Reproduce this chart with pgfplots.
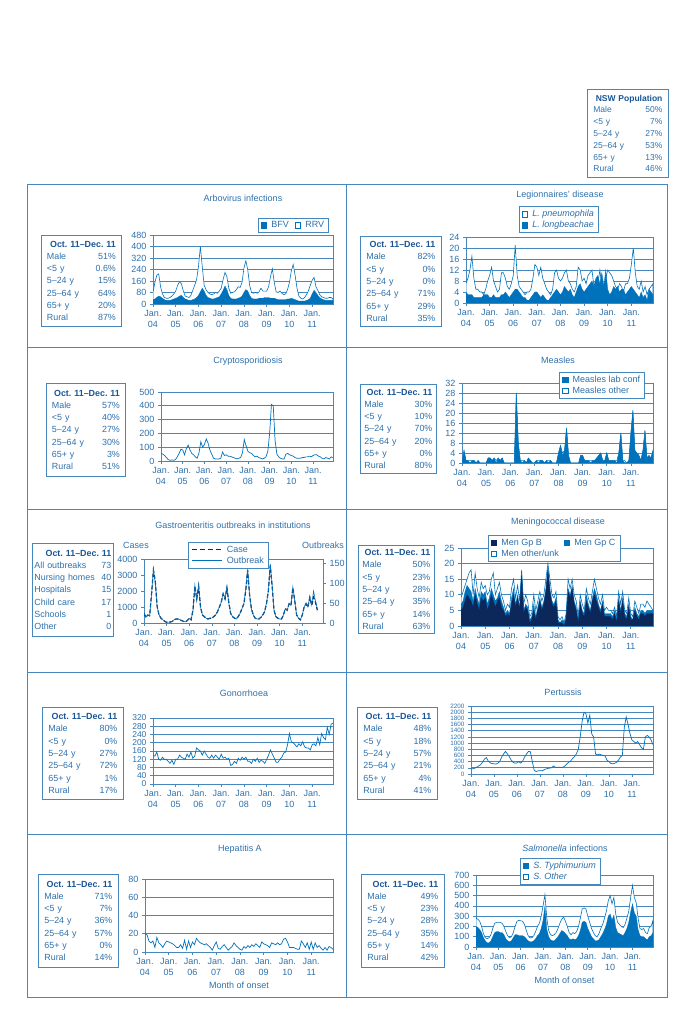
\documentclass[border=0pt]{standalone}
\usepackage{fontspec}
\setmainfont{Liberation Sans}
\usepackage{pgfplots}
\pgfplotsset{compat=1.18}
\usepackage{pgfplotstable}
\frenchspacing

\definecolor{fillblue}{RGB}{0,114,188}
\definecolor{textblue}{RGB}{45,112,172}
\definecolor{headblue}{RGB}{25,85,150}
\definecolor{lineblue}{RGB}{70,135,190}
\definecolor{navy}{RGB}{12,40,90}

\newcommand{\tickfont}{\fontsize{9}{10.5}\selectfont}
\newcommand{\legfont}{\fontsize{9}{10}\selectfont}
\newcommand{\titlefont}{\fontsize{9}{11}\selectfont}
\newcommand{\boxfont}{\fontsize{8.9}{12.3}\selectfont}
\newcommand{\row}[2]{\\#1\hfill#2}
\newcommand{\hdr}[1]{\hspace*{\fill}{\color{headblue}\bfseries #1}\hspace*{\fill}}
% x, y(top), width, height, textwidth, content
\newcommand{\infobox}[6]{\node[draw=lineblue, line width=0.8pt, anchor=north west,
  minimum width=#3pt, minimum height=#4pt, inner sep=0pt, text width=#5pt,
  font=\boxfont, text=textblue, align=left] at (#1pt,#2pt) {#6};}

\pgfplotsset{
 nswaxis/.style={
   scale only axis,
   xmin=0, xmax=95, ymin=0,
   xtick={0,12,...,84},
   xticklabels={{Jan.\\04},{Jan.\\05},{Jan.\\06},{Jan.\\07},{Jan.\\08},{Jan.\\09},{Jan.\\10},{Jan.\\11}},
   xticklabel style={align=center, font=\tickfont, text=textblue},
   yticklabel style={font=\tickfont, text=textblue},
   axis line style={draw=lineblue, line width=0.8pt},
   ymajorgrids, major grid style={draw=lineblue, line width=0.7pt},
   major tick style={draw=lineblue, line width=0.6pt},
   tick align=outside, major tick length=3pt,
   xtick pos=bottom, ytick pos=left,
   /pgf/number format/assume math mode=true,
   /pgf/number format/1000 sep={},
   legend style={draw=lineblue, line width=0.6pt, fill=white, font=\legfont\color{textblue},
     inner xsep=2.5pt, inner ysep=1.5pt, row sep=-1pt,
     /tikz/every odd column/.append style={column sep=2.5pt}},
   legend cell align=left,
 },
 sqleg/.style={legend image code/.code={\draw[##1,line width=0.5pt] (0pt,-2.8pt) rectangle (5.6pt,2.8pt);}},
 lnleg/.style={legend image code/.code={\draw[##1] (0pt,0pt) -- (30pt,0pt);}},
}

% ---------------- data ----------------
\pgfplotstableread[row sep=\\]{v\\
80\\150\\200\\210\\120\\70\\45\\40\\40\\45\\55\\70\\
90\\130\\155\\140\\90\\55\\50\\45\\60\\95\\130\\170\\
260\\400\\260\\130\\100\\80\\70\\65\\70\\80\\75\\90\\
110\\170\\220\\190\\110\\75\\80\\85\\100\\120\\115\\150\\
250\\300\\240\\130\\80\\75\\80\\75\\85\\110\\90\\90\\
90\\120\\190\\245\\150\\85\\80\\90\\75\\65\\70\\100\\
150\\230\\275\\200\\110\\55\\40\\35\\45\\65\\90\\130\\
165\\185\\120\\95\\65\\50\\45\\40\\40\\45\\45\\35\\
}\arboRRV
\pgfplotstableread[row sep=\\]{v\\
30\\35\\45\\55\\50\\40\\30\\25\\25\\25\\30\\35\\
40\\45\\55\\60\\45\\35\\30\\25\\25\\30\\35\\45\\
60\\85\\110\\90\\60\\45\\40\\35\\35\\40\\45\\50\\
70\\95\\125\\100\\60\\40\\35\\35\\35\\40\\45\\55\\
80\\100\\90\\60\\40\\35\\35\\35\\40\\40\\40\\45\\
45\\45\\40\\40\\40\\35\\30\\30\\30\\30\\30\\35\\
35\\40\\35\\30\\25\\20\\20\\20\\20\\25\\30\\40\\
70\\95\\80\\60\\45\\35\\30\\25\\25\\25\\25\\25\\
}\arboBFV
\pgfplotstableread[row sep=\\]{v\\
7\\9\\12\\17\\9\\5\\5\\4\\4\\3\\5\\8\\
10\\13\\8\\6\\4\\5\\11\\11\\9\\6\\5\\7\\
10\\21\\10\\6\\5\\4\\3\\4\\4\\5\\9\\14\\
13\\10\\13\\9\\7\\5\\4\\3\\5\\11\\12\\9\\
8\\9\\11\\12\\8\\7\\5\\4\\6\\13\\12\\8\\
9\\7\\10\\11\\12\\6\\8\\7\\12\\6\\5\\9\\
12\\11\\10\\8\\6\\5\\7\\6\\4\\7\\7\\9\\
14\\20\\11\\6\\5\\8\\4\\6\\3\\5\\6\\7\\
}\legPneu
\pgfplotstableread[row sep=\\]{v\\
4\\3\\3\\3\\2\\2\\2\\2\\2\\3\\3\\3\\
2\\2\\3\\2\\2\\2\\3\\3\\4\\3\\2\\3\\
4\\5\\5\\4\\3\\2\\2\\1\\1\\2\\3\\4\\
4\\3\\2\\3\\2\\1\\1\\2\\3\\4\\5\\4\\
3\\4\\6\\5\\4\\5\\3\\2\\4\\6\\7\\5\\
4\\5\\6\\7\\8\\6\\9\\10\\7\\11\\6\\12\\
5\\3\\4\\6\\5\\6\\4\\5\\5\\3\\4\\5\\
6\\5\\4\\3\\2\\4\\2\\3\\1\\5\\4\\3\\
}\legLong
\pgfplotstableread[row sep=\\]{v\\
55\\50\\40\\25\\10\\5\\8\\5\\10\\30\\55\\85\\
80\\45\\90\\115\\80\\55\\45\\30\\20\\60\\140\\100\\
120\\160\\130\\80\\50\\20\\15\\15\\15\\20\\65\\40\\
45\\35\\35\\30\\25\\20\\15\\20\\25\\60\\155\\110\\
70\\60\\55\\40\\30\\35\\25\\20\\15\\20\\30\\70\\
200\\410\\400\\150\\50\\30\\20\\15\\15\\50\\55\\45\\
40\\35\\25\\20\\20\\20\\25\\25\\30\\30\\35\\30\\
40\\45\\45\\35\\30\\20\\15\\25\\20\\15\\30\\25\\
}\crypto
\pgfplotstableread[row sep=\\]{v\\
0\\5\\1\\1\\0\\1\\1\\0\\1\\0\\0\\0\\
0\\2\\2\\1\\2\\0\\2\\1\\2\\0\\0\\0\\
0\\0\\0\\28\\8\\1\\0\\1\\0\\2\\1\\0\\
0\\1\\0\\1\\1\\0\\1\\0\\1\\0\\0\\0\\
4\\7\\3\\5\\14\\3\\0\\0\\0\\0\\0\\3\\
3\\1\\1\\1\\0\\1\\1\\2\\3\\4\\1\\1\\
4\\1\\1\\1\\1\\0\\4\\12\\1\\0\\0\\1\\
12\\21\\5\\4\\3\\1\\5\\13\\2\\3\\2\\5\\
}\measLab
\pgfplotstableread[row sep=\\]{v\\
0\\5\\1\\1\\1\\1\\1\\0\\1\\0\\0\\0\\
0\\2\\2\\1\\2\\1\\2\\1\\2\\0\\0\\0\\
0\\0\\0\\28\\8\\1\\1\\1\\0\\2\\1\\0\\
0\\1\\1\\1\\1\\0\\1\\1\\1\\0\\0\\0\\
4\\7\\4\\5\\14\\3\\0\\0\\0\\0\\0\\3\\
3\\1\\1\\1\\1\\1\\1\\2\\3\\4\\1\\1\\
4\\1\\1\\1\\1\\1\\4\\12\\1\\1\\0\\1\\
12\\21\\5\\4\\3\\1\\5\\13\\2\\3\\2\\5\\
}\measOth
\pgfplotstableread[row sep=\\]{v\\
600\\350\\500\\450\\1800\\3300\\2600\\1000\\500\\300\\200\\100\\
50\\30\\60\\100\\200\\250\\250\\200\\150\\100\\80\\150\\
300\\200\\800\\2300\\1500\\2300\\1000\\500\\400\\300\\250\\300\\
300\\400\\500\\700\\1000\\1300\\1800\\1500\\2200\\1300\\600\\400\\
300\\250\\400\\600\\900\\1200\\2000\\3300\\1800\\900\\500\\300\\
250\\250\\350\\500\\700\\1200\\2000\\3600\\2300\\800\\400\\300\\
250\\250\\500\\900\\800\\1200\\1100\\2200\\1400\\500\\300\\200\\
500\\1000\\1200\\1000\\1600\\1100\\1600\\1300\\800\\
}\gastroCase
\pgfplotstableread[row sep=\\]{v\\
25\\14\\20\\18\\70\\135\\100\\40\\20\\13\\8\\4\\
2\\2\\3\\4\\8\\10\\10\\8\\6\\4\\3\\6\\
12\\8\\32\\95\\60\\95\\40\\20\\16\\12\\10\\12\\
12\\16\\20\\28\\40\\52\\75\\62\\90\\50\\24\\16\\
12\\10\\16\\24\\36\\48\\85\\135\\72\\35\\20\\12\\
10\\10\\14\\20\\28\\50\\80\\148\\95\\32\\16\\12\\
10\\10\\20\\36\\32\\48\\44\\90\\55\\20\\12\\8\\
20\\40\\50\\40\\65\\45\\80\\55\\35\\
}\gastroOb
\pgfplotstableread[row sep=\\]{v\\
9\\11\\13\\15\\17\\18\\10\\17\\12\\9\\14\\12\\
13\\10\\11\\15\\17\\10\\12\\14\\10\\8\\5\\7\\
6\\12\\15\\9\\13\\8\\18\\7\\10\\8\\3\\4\\
10\\5\\8\\11\\8\\10\\15\\20\\15\\10\\9\\11\\
3\\2\\3\\1\\4\\15\\12\\15\\10\\8\\3\\10\\
7\\5\\12\\9\\7\\11\\15\\12\\9\\7\\10\\5\\
6\\5\\5\\4\\6\\3\\11\\7\\11\\5\\4\\9\\
4\\3\\8\\6\\4\\7\\7\\6\\8\\7\\6\\5\\
}\menTot
\pgfplotstableread[row sep=\\]{v\\
7\\8\\11\\13\\12\\11\\8\\12\\9\\7\\11\\10\\
11\\7\\9\\12\\10\\8\\9\\11\\8\\6\\4\\5\\
4\\9\\12\\7\\10\\6\\17\\5\\7\\6\\2\\3\\
7\\3\\6\\9\\6\\8\\12\\19\\12\\8\\7\\9\\
2\\1\\2\\1\\3\\12\\10\\13\\8\\6\\2\\8\\
5\\4\\10\\7\\5\\9\\12\\10\\7\\5\\8\\4\\
4\\4\\4\\3\\5\\2\\9\\5\\9\\4\\3\\7\\
3\\2\\6\\4\\3\\5\\5\\4\\5\\5\\5\\5\\
}\menBC
\pgfplotstableread[row sep=\\]{v\\
5\\6\\8\\10\\9\\8\\6\\10\\7\\5\\9\\8\\
9\\5\\7\\10\\8\\6\\8\\9\\6\\5\\3\\4\\
3\\7\\10\\6\\9\\5\\16\\4\\6\\5\\1\\2\\
5\\2\\5\\8\\5\\7\\11\\18\\11\\7\\6\\8\\
1\\1\\1\\0\\2\\11\\9\\12\\7\\5\\1\\7\\
4\\3\\8\\6\\4\\8\\10\\8\\6\\4\\7\\3\\
3\\3\\3\\2\\4\\1\\8\\4\\8\\3\\2\\6\\
2\\2\\5\\3\\2\\4\\4\\3\\4\\4\\4\\4\\
}\menB
\pgfplotstableread[row sep=\\]{v\\
140\\135\\155\\120\\115\\130\\120\\120\\110\\100\\115\\95\\
120\\120\\140\\130\\125\\120\\145\\130\\155\\125\\135\\175\\
165\\160\\140\\160\\145\\130\\125\\140\\125\\140\\130\\120\\
145\\125\\130\\120\\125\\90\\95\\110\\100\\125\\115\\130\\
120\\130\\110\\110\\100\\120\\110\\125\\105\\115\\110\\100\\
120\\140\\165\\145\\125\\105\\105\\120\\130\\150\\155\\190\\
245\\205\\200\\190\\180\\195\\185\\205\\180\\175\\175\\165\\
190\\195\\185\\225\\190\\245\\225\\215\\275\\240\\290\\295\\
}\gono
\pgfplotstableread[row sep=\\]{v\\
170\\170\\190\\220\\260\\300\\380\\480\\530\\420\\360\\340\\
330\\320\\350\\400\\550\\650\\730\\650\\560\\450\\380\\350\\
360\\400\\350\\420\\550\\650\\730\\720\\400\\120\\80\\100\\
110\\100\\130\\160\\180\\190\\200\\260\\220\\210\\220\\210\\
220\\260\\320\\380\\420\\500\\560\\650\\800\\1200\\1700\\2000\\
1950\\1650\\1900\\1300\\1200\\650\\620\\640\\620\\600\\580\\450\\
400\\340\\330\\350\\380\\450\\550\\600\\1500\\1850\\1600\\1300\\
1100\\1050\\1000\\1050\\950\\850\\800\\1200\\1250\\1200\\1100\\950\\
}\pert
\pgfplotstableread[row sep=\\]{v\\
20\\19\\12\\10\\12\\5\\16\\10\\8\\5\\9\\12\\
11\\10\\9\\7\\5\\5\\8\\4\\13\\3\\12\\5\\
11\\8\\15\\12\\10\\9\\8\\9\\7\\5\\2\\7\\
11\\4\\3\\6\\8\\5\\2\\4\\6\\10\\7\\5\\
3\\2\\6\\4\\7\\5\\8\\6\\9\\7\\5\\11\\
9\\8\\7\\5\\10\\9\\8\\10\\8\\9\\14\\15\\
11\\5\\5\\5\\4\\3\\3\\12\\9\\5\\10\\3\\
11\\3\\10\\5\\7\\4\\2\\5\\2\\6\\5\\3\\
}\hepa
\pgfplotstableread[row sep=\\]{v\\
280\\270\\250\\200\\130\\90\\80\\90\\120\\180\\230\\240\\
240\\240\\230\\200\\150\\110\\90\\100\\140\\200\\250\\260\\
255\\250\\220\\160\\110\\90\\90\\110\\150\\200\\230\\300\\
400\\510\\280\\160\\120\\110\\120\\140\\180\\230\\270\\290\\
250\\200\\140\\120\\140\\130\\150\\200\\280\\370\\380\\370\\
300\\240\\180\\140\\110\\100\\130\\180\\220\\280\\350\\450\\
500\\420\\480\\320\\240\\220\\200\\190\\220\\280\\350\\480\\
600\\480\\430\\280\\180\\170\\180\\140\\130\\190\\200\\260\\
}\salmTot
\pgfplotstableread[row sep=\\]{v\\
200\\190\\170\\140\\90\\60\\40\\40\\60\\100\\140\\150\\
150\\140\\140\\120\\80\\60\\50\\60\\90\\120\\120\\110\\
110\\110\\100\\80\\60\\50\\50\\60\\80\\110\\130\\180\\
260\\400\\170\\100\\70\\60\\60\\80\\100\\130\\160\\150\\
130\\110\\80\\70\\80\\70\\80\\110\\160\\240\\250\\240\\
180\\140\\100\\80\\60\\60\\70\\100\\130\\170\\220\\300\\
320\\260\\310\\190\\140\\130\\120\\110\\140\\180\\240\\340\\
420\\330\\300\\170\\110\\100\\100\\80\\70\\100\\110\\140\\
}\salmTyph

\begin{document}
\begin{tikzpicture}
\path[use as bounding box] (0,0) rectangle (695pt,1018pt);

% panel frame
\draw[lineblue, line width=0.8pt] (27.5pt,834pt) rectangle (667pt,21pt);
\foreach \yy in {671,509,346,184} \draw[lineblue, line width=0.8pt] (27.5pt,\yy pt) -- (667pt,\yy pt);
\draw[lineblue, line width=0.8pt] (346pt,834pt) -- (346pt,21pt);

% NSW population
\node[draw=lineblue, line width=0.8pt, anchor=north west, minimum width=81pt, minimum height=88pt,
  inner sep=0pt, text width=69pt, font=\fontsize{8.5}{11.8}\selectfont, text=textblue, align=left]
  at (587pt,929pt) {\hdr{NSW Population}\row{Male}{50\%}\row{<5 y}{7\%}\row{5–24 y}{27\%}\row{25–64 y}{53\%}\row{65+ y}{13\%}\row{Rural}{46\%}};

% titles
\begin{scope}[every node/.style={font=\titlefont, text=textblue}]
\node at (243pt,820pt) {Arbovirus infections};
\node at (560pt,823pt) {Legionnaires' disease};
\node at (248pt,657pt) {Cryptosporidiosis};
\node at (558pt,658pt) {Measles};
\node at (233pt,493pt) {Gastroenteritis outbreaks in institutions};
\node at (558pt,496pt) {Meningococcal disease};
\node at (244pt,325pt) {Gonorrhoea};
\node at (563pt,326pt) {Pertussis};
\node at (240pt,169pt) {Hepatitis A};
\node at (565pt,170pt) {\textit{Salmonella} infections};
\node at (136pt,473pt) {Cases};
\node at (323pt,473pt) {Outbreaks};
\end{scope}

% info boxes
\infobox{41}{783}{80}{91}{69}{\hdr{Oct. 11–Dec. 11}\row{Male}{51\%}\row{<5 y}{0.6\%}\row{5–24 y}{15\%}\row{25–64 y}{64\%}\row{65+ y}{20\%}\row{Rural}{87\%}}
\infobox{360}{782}{81}{90}{69}{\hdr{Oct. 11–Dec. 11}\row{Male}{82\%}\row{<5 y}{0\%}\row{5–24 y}{0\%}\row{25–64 y}{71\%}\row{65+ y}{29\%}\row{Rural}{35\%}}
\infobox{46}{635}{79}{93}{68}{\hdr{Oct. 11–Dec. 11}\row{Male}{57\%}\row{<5 y}{40\%}\row{5–24 y}{27\%}\row{25–64 y}{30\%}\row{65+ y}{3\%}\row{Rural}{51\%}}
\infobox{360}{634}{76}{89}{68}{\hdr{Oct. 11–Dec. 11}\row{Male}{30\%}\row{<5 y}{10\%}\row{5–24 y}{70\%}\row{25–64 y}{20\%}\row{65+ y}{0\%}\row{Rural}{80\%}}
\infobox{32}{475}{81}{93}{77}{\hdr{Oct. 11–Dec. 11}\row{All outbreaks}{73}\row{Nursing homes}{40}\row{Hospitals}{15}\row{Child care}{17}\row{Schools}{1}\row{Other}{0}}
\infobox{358}{473}{76}{88}{68}{\hdr{Oct. 11–Dec. 11}\row{Male}{50\%}\row{<5 y}{23\%}\row{5–24 y}{28\%}\row{25–64 y}{35\%}\row{65+ y}{14\%}\row{Rural}{63\%}}
\infobox{42}{311}{81}{92}{69}{\hdr{Oct. 11–Dec. 11}\row{Male}{80\%}\row{<5 y}{0\%}\row{5–24 y}{27\%}\row{25–64 y}{72\%}\row{65+ y}{1\%}\row{Rural}{17\%}}
\infobox{357}{311}{80}{92}{68}{\hdr{Oct. 11–Dec. 11}\row{Male}{48\%}\row{<5 y}{18\%}\row{5–24 y}{57\%}\row{25–64 y}{21\%}\row{65+ y}{4\%}\row{Rural}{41\%}}
\infobox{38}{144}{80}{93}{68}{\hdr{Oct. 11–Dec. 11}\row{Male}{71\%}\row{<5 y}{7\%}\row{5–24 y}{36\%}\row{25–64 y}{57\%}\row{65+ y}{0\%}\row{Rural}{14\%}}
\infobox{361}{144}{83}{93}{71}{\hdr{Oct. 11–Dec. 11}\row{Male}{49\%}\row{<5 y}{23\%}\row{5–24 y}{28\%}\row{25–64 y}{35\%}\row{65+ y}{14\%}\row{Rural}{42\%}}

% 1 Arbovirus
\begin{axis}[nswaxis, at={(153pt,714pt)}, anchor=south west, width=180pt, height=69pt,
  ymax=480, ytick={0,80,...,480},
  legend style={at={(0.978,1.03)}, anchor=south east}, legend columns=2,
  legend style={/tikz/every even column/.append style={column sep=4pt}}]
\addlegendimage{sqleg, fill=fillblue, draw=fillblue}\addlegendentry{BFV}
\addlegendimage{sqleg, fill=white, draw=fillblue}\addlegendentry{RRV}
\addplot[fill=white, draw=fillblue, line width=0.6pt, forget plot] table[x expr=\coordindex, y=v]{\arboRRV} \closedcycle;
\addplot[fill=fillblue, draw=fillblue, line width=0.3pt, forget plot] table[x expr=\coordindex, y=v]{\arboBFV} \closedcycle;
\end{axis}

% 2 Legionnaires
\begin{axis}[nswaxis, at={(466pt,715pt)}, anchor=south west, width=187pt, height=66pt,
  ymax=24, ytick={0,4,...,24},
  legend style={at={(0.497,1.06)}, anchor=south}]
\addlegendimage{sqleg, fill=white, draw=fillblue}\addlegendentry{\textit{L. pneumophila}}
\addlegendimage{sqleg, fill=fillblue, draw=fillblue}\addlegendentry{\textit{L. longbeachae}}
\addplot[fill=white, draw=fillblue, line width=0.6pt, forget plot] table[x expr=\coordindex, y=v]{\legPneu} \closedcycle;
\addplot[fill=fillblue, draw=fillblue, line width=0.3pt, forget plot] table[x expr=\coordindex, y=v]{\legLong} \closedcycle;
\end{axis}

% 3 Cryptosporidiosis
\begin{axis}[nswaxis, at={(161pt,557pt)}, anchor=south west, width=172pt, height=69pt,
  ymax=500, ytick={0,100,...,500}]
\addplot[draw=fillblue, line width=0.7pt] table[x expr=\coordindex, y=v]{\crypto};
\end{axis}

% 4 Measles
\begin{axis}[nswaxis, at={(462pt,555pt)}, anchor=south west, width=191pt, height=80pt,
  ymax=32, ytick={0,4,...,32},
  legend style={at={(0.958,1.1375)}, anchor=north east}]
\addlegendimage{sqleg, fill=fillblue, draw=fillblue}\addlegendentry{Measles lab conf}
\addlegendimage{sqleg, fill=white, draw=fillblue}\addlegendentry{Measles other}
\addplot[fill=white, draw=fillblue, line width=0.5pt, forget plot] table[x expr=\coordindex, y=v]{\measOth} \closedcycle;
\addplot[fill=fillblue, draw=fillblue, line width=0.3pt, forget plot] table[x expr=\coordindex, y=v]{\measLab} \closedcycle;
\end{axis}

% 5 Gastro
\begin{axis}[nswaxis, ymajorgrids=false, at={(144pt,395pt)}, anchor=south west, width=179pt, height=64pt,
  ymax=4000, ytick={0,1000,...,4000}, lnleg,
  legend style={at={(0.472,1.266)}, anchor=north}]
\addlegendimage{navy, line width=1.3pt, dash pattern=on 5pt off 3pt}\addlegendentry{Case}
\addlegendimage{fillblue, line width=0.6pt}\addlegendentry{Outbreak}
\addplot[navy, line width=1.2pt, dash pattern=on 4pt off 2pt, forget plot] table[x expr=\coordindex, y=v]{\gastroCase};
\end{axis}
\begin{axis}[scale only axis, at={(144pt,395pt)}, anchor=south west, width=179pt, height=64pt,
  xmin=0, xmax=95, ymin=0, ymax=160, axis y line*=right, axis x line=none,
  ytick={0,50,100,150}, yticklabel style={font=\tickfont, text=textblue},
  axis line style={draw=lineblue, line width=0.8pt}, major tick style={draw=lineblue, line width=0.6pt},
  tick align=outside, major tick length=3pt,
  /pgf/number format/assume math mode=true]
\addplot[fillblue, line width=0.6pt] table[x expr=\coordindex, y=v]{\gastroOb};
\end{axis}

% 6 Meningococcal
\begin{axis}[nswaxis, at={(461pt,392pt)}, anchor=south west, width=192pt, height=78pt,
  ymax=25, ytick={0,5,...,25}, legend columns=2,
  legend style={at={(0.14,1.167)}, anchor=north west, /tikz/every even column/.append style={column sep=3pt}}]
\addlegendimage{sqleg, fill=navy, draw=navy}\addlegendentry{Men Gp B}
\addlegendimage{sqleg, fill=fillblue, draw=fillblue}\addlegendentry{Men Gp C}
\addlegendimage{sqleg, fill=white, draw=fillblue}\addlegendentry{Men other/unk}
\addplot[fill=white, draw=fillblue, line width=0.6pt, forget plot] table[x expr=\coordindex, y=v]{\menTot} \closedcycle;
\addplot[fill=fillblue, draw=fillblue, line width=0.3pt, forget plot] table[x expr=\coordindex, y=v]{\menBC} \closedcycle;
\addplot[fill=navy, draw=navy, line width=0.3pt, forget plot] table[x expr=\coordindex, y=v]{\menB} \closedcycle;
\end{axis}

% 7 Gonorrhoea
\begin{axis}[nswaxis, at={(153pt,234pt)}, anchor=south west, width=180pt, height=66pt,
  ymax=320, ytick={0,40,...,320}, yticklabel style={font=\fontsize{8.5}{9}\selectfont}]
\addplot[draw=fillblue, line width=0.7pt] table[x expr=\coordindex, y=v]{\gono};
\end{axis}

% 8 Pertussis
\begin{axis}[nswaxis, at={(471pt,244pt)}, anchor=south west, width=182pt, height=68pt,
  ymax=2200, ytick={0,200,...,2200}, yticklabel style={font=\fontsize{6.3}{6.3}\selectfont}]
\addplot[draw=fillblue, line width=0.7pt] table[x expr=\coordindex, y=v]{\pert};
\end{axis}

% 9 Hepatitis A
\begin{axis}[nswaxis, at={(145pt,66pt)}, anchor=south west, width=188pt, height=73pt,
  ymax=80, ytick={0,20,...,80},
  xlabel={Month of onset}, xlabel style={font=\titlefont, text=textblue}]
\addplot[draw=fillblue, line width=0.7pt] table[x expr=\coordindex, y=v]{\hepa};
\end{axis}

% 10 Salmonella
\begin{axis}[nswaxis, at={(476pt,71pt)}, anchor=south west, width=177pt, height=72pt,
  ymax=700, ytick={0,100,...,700},
  xlabel={Month of onset}, xlabel style={font=\titlefont, text=textblue},
  legend style={at={(0.249,1.236)}, anchor=north west}]
\addlegendimage{sqleg, fill=fillblue, draw=fillblue}\addlegendentry{\textit{S. Typhimurium}}
\addlegendimage{sqleg, fill=white, draw=fillblue}\addlegendentry{\textit{S. Other}}
\addplot[fill=white, draw=fillblue, line width=0.6pt, forget plot] table[x expr=\coordindex, y=v]{\salmTot} \closedcycle;
\addplot[fill=fillblue, draw=fillblue, line width=0.3pt, forget plot] table[x expr=\coordindex, y=v]{\salmTyph} \closedcycle;
\end{axis}

\end{tikzpicture}
\end{document}
